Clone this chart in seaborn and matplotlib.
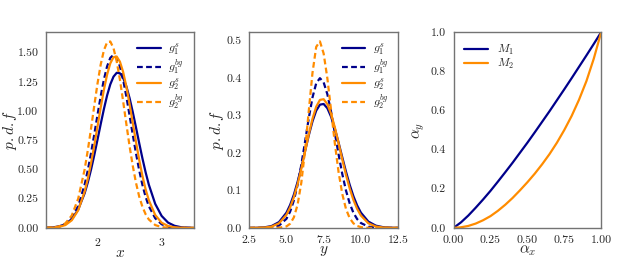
import matplotlib
matplotlib.use("Agg")
import matplotlib.pyplot as plt
import seaborn as sns

# left panel: p.d.f of x
x_grid = [1.2, 1.3, 1.4, 1.5, 1.6, 1.7, 1.8, 1.85, 1.9, 1.95, 2.0, 2.05, 2.1, 2.15, 2.2,
          2.25, 2.3, 2.35, 2.4, 2.45, 2.5, 2.55, 2.6, 2.65, 2.7, 2.75, 2.8, 2.9, 3.0,
          3.1, 3.2, 3.3, 3.4, 3.5]
g1s_x = [0.001, 0.004, 0.012, 0.032, 0.075, 0.157, 0.296, 0.390, 0.499, 0.622, 0.753,
         0.887, 1.016, 1.133, 1.228, 1.294, 1.327, 1.323, 1.284, 1.211, 1.111, 0.991,
         0.860, 0.726, 0.596, 0.476, 0.370, 0.205, 0.102, 0.045, 0.018, 0.006, 0.002, 0.0]
g1bg_x = [0.001, 0.003, 0.010, 0.035, 0.090, 0.186, 0.369, 0.494, 0.639, 0.798, 0.964,
          1.125, 1.268, 1.382, 1.455, 1.480, 1.455, 1.382, 1.268, 1.125, 0.964, 0.798,
          0.639, 0.494, 0.369, 0.266, 0.186, 0.082, 0.031, 0.010, 0.003, 0.001, 0.0, 0.0]
g2s_x = [0.001, 0.002, 0.008, 0.024, 0.065, 0.151, 0.310, 0.421, 0.554, 0.704, 0.865,
         1.029, 1.181, 1.311, 1.408, 1.461, 1.466, 1.422, 1.334, 1.209, 1.060, 0.898,
         0.736, 0.583, 0.446, 0.330, 0.237, 0.110, 0.044, 0.016, 0.005, 0.001, 0.0, 0.0]
g2bg_x = [0.001, 0.003, 0.012, 0.038, 0.106, 0.250, 0.499, 0.665, 0.850, 1.044, 1.232,
          1.396, 1.519, 1.588, 1.595, 1.538, 1.424, 1.268, 1.083, 0.889, 0.700, 0.531,
          0.386, 0.269, 0.181, 0.117, 0.072, 0.024, 0.007, 0.001, 0.0, 0.0, 0.0, 0.0]

# middle panel: p.d.f of y
y_grid = [2.5, 3.0, 3.5, 4.0, 4.5, 5.0, 5.25, 5.5, 5.75, 6.0, 6.25, 6.5, 6.75, 7.0, 7.25,
          7.5, 7.75, 8.0, 8.25, 8.5, 8.75, 9.0, 9.25, 9.5, 9.75, 10.0, 10.5, 11.0, 11.5,
          12.0, 12.5]
g1s_y = [0.0, 0.0003, 0.0013, 0.0049, 0.0154, 0.0405, 0.0614, 0.0888, 0.1229, 0.1623,
         0.2048, 0.2470, 0.2845, 0.3132, 0.3293, 0.3310, 0.3197, 0.2969, 0.2654, 0.2281,
         0.1887, 0.1501, 0.1149, 0.0846, 0.0599, 0.0408, 0.0169, 0.0060, 0.0018, 0.0005, 0.0]
g1bg_y = [0.0, 0.0, 0.0002, 0.0011, 0.0061, 0.0242, 0.0436, 0.0733, 0.1150, 0.1683,
          0.2299, 0.2929, 0.3483, 0.3864, 0.4000, 0.3888, 0.3571, 0.3099, 0.2542, 0.1969,
          0.1442, 0.0998, 0.0652, 0.0403, 0.0235, 0.0130, 0.0033, 0.0007, 0.0001, 0.0, 0.0]
g2s_y = [0.0, 0.0002, 0.0008, 0.0034, 0.0121, 0.0347, 0.0547, 0.0818, 0.1166, 0.1580,
         0.2036, 0.2498, 0.2916, 0.3237, 0.3419, 0.3438, 0.3306, 0.3045, 0.2685, 0.2267,
         0.1832, 0.1418, 0.1052, 0.0746, 0.0507, 0.0330, 0.0123, 0.0038, 0.0010, 0.0002, 0.0]
g2bg_y = [0.0, 0.0, 0.0, 0.0, 0.0003, 0.0039, 0.0112, 0.0281, 0.0620, 0.1208, 0.2069,
          0.3120, 0.4140, 0.4837, 0.4983, 0.4658, 0.3994, 0.3140, 0.2264, 0.1497, 0.0908,
          0.0505, 0.0258, 0.0121, 0.0052, 0.0020, 0.0001, 0.0, 0.0, 0.0, 0.0]

# right panel: alpha_y vs alpha_x
alpha_x = [0.0, 0.05, 0.1, 0.15, 0.2, 0.25, 0.3, 0.35, 0.4, 0.45, 0.5, 0.55, 0.6, 0.65,
           0.7, 0.75, 0.8, 0.85, 0.9, 0.95, 1.0]
m1 = [0.0, 0.028, 0.063, 0.103, 0.145, 0.189, 0.236, 0.284, 0.333, 0.384, 0.435, 0.488,
      0.542, 0.596, 0.652, 0.708, 0.765, 0.823, 0.881, 0.940, 1.0]
m2 = [0.0, 0.003, 0.010, 0.022, 0.039, 0.060, 0.087, 0.118, 0.153, 0.192, 0.233, 0.277,
      0.325, 0.377, 0.435, 0.500, 0.572, 0.655, 0.750, 0.865, 1.0]

blue = "#00008b"
orange = "#ff8c00"
dash = (0, (2.6, 1.5))

sns.set_style("white")
plt.rcParams["font.family"] = ["serif"]
plt.rcParams["font.serif"] = ["cmr10"]
plt.rcParams["mathtext.fontset"] = "cm"
plt.rcParams["axes.formatter.use_mathtext"] = True
plt.rcParams["axes.edgecolor"] = "0.45"
plt.rcParams["axes.linewidth"] = 1.0

fig = plt.figure(figsize=(6.23, 2.70), dpi=100)
bottom, height = 0.156, 0.725
ax1 = fig.add_axes([0.074, bottom, 0.237, height])
ax2 = fig.add_axes([0.400, bottom, 0.239, height])
ax3 = fig.add_axes([0.728, bottom, 0.237, height])

lw = 1.6
for ax, grid, curves in [(ax1, x_grid, (g1s_x, g1bg_x, g2s_x, g2bg_x)),
                         (ax2, y_grid, (g1s_y, g1bg_y, g2s_y, g2bg_y))]:
    sns.lineplot(x=grid, y=curves[0], ax=ax, color=blue, lw=lw, label=r"$g_1^s$")
    sns.lineplot(x=grid, y=curves[1], ax=ax, color=blue, lw=lw, linestyle=dash,
                 label=r"$g_1^{bg}$")
    sns.lineplot(x=grid, y=curves[2], ax=ax, color=orange, lw=lw, label=r"$g_2^s$")
    sns.lineplot(x=grid, y=curves[3], ax=ax, color=orange, lw=lw, linestyle=dash,
                 label=r"$g_2^{bg}$")
    ax.legend(loc="upper right", frameon=False, fontsize=8.5, handlelength=2.0,
              labelspacing=0.0, borderaxespad=0.4, handletextpad=0.65)

ax1.set_xlim(1.2, 3.5)
ax1.set_ylim(0, 1.675)
ax1.set_xticks([2, 3])
ax1.set_yticks([0, 0.25, 0.5, 0.75, 1.0, 1.25, 1.5])
ax1.set_yticklabels(["0.00", "0.25", "0.50", "0.75", "1.00", "1.25", "1.50"])
ax1.set_xlabel(r"$x$", fontsize=11, labelpad=-1)
ax1.set_ylabel(r"$p.d.f$", fontsize=11)
ax1.yaxis.set_label_coords(-0.185, 0.5)

ax2.set_xlim(2.5, 12.5)
ax2.set_ylim(0, 0.523)
ax2.set_xticks([2.5, 5.0, 7.5, 10.0, 12.5])
ax2.set_xticklabels(["2.5", "5.0", "7.5", "10.0", "12.5"])
ax2.set_yticks([0, 0.1, 0.2, 0.3, 0.4, 0.5])
ax2.set_yticklabels(["0.0", "0.1", "0.2", "0.3", "0.4", "0.5"])
ax2.set_xlabel(r"$y$", fontsize=11, labelpad=-1)
ax2.set_ylabel(r"$p.d.f$", fontsize=11)
ax2.yaxis.set_label_coords(-0.155, 0.5)

sns.lineplot(x=alpha_x, y=m1, ax=ax3, color=blue, lw=lw, label=r"$M_1$")
sns.lineplot(x=alpha_x, y=m2, ax=ax3, color=orange, lw=lw, label=r"$M_2$")
ax3.legend(loc="upper left", frameon=False, fontsize=8.5, handlelength=2.0,
           labelspacing=0.05, borderaxespad=0.5, handletextpad=0.8)
ax3.set_xlim(0, 1)
ax3.set_ylim(0, 1)
ax3.set_xticks([0, 0.25, 0.5, 0.75, 1.0])
ax3.set_xticklabels(["0.00", "0.25", "0.50", "0.75", "1.00"])
ax3.set_yticks([0, 0.2, 0.4, 0.6, 0.8, 1.0])
ax3.set_yticklabels(["0.0", "0.2", "0.4", "0.6", "0.8", "1.0"])
ax3.set_xlabel(r"$\alpha_x$", fontsize=11, labelpad=-1)
ax3.set_ylabel(r"$\alpha_y$", fontsize=11)
ax3.yaxis.set_label_coords(-0.18, 0.5)

for ax in (ax1, ax2, ax3):
    ax.tick_params(labelsize=8.5, pad=2)

fig.savefig("out.png", dpi=100)
